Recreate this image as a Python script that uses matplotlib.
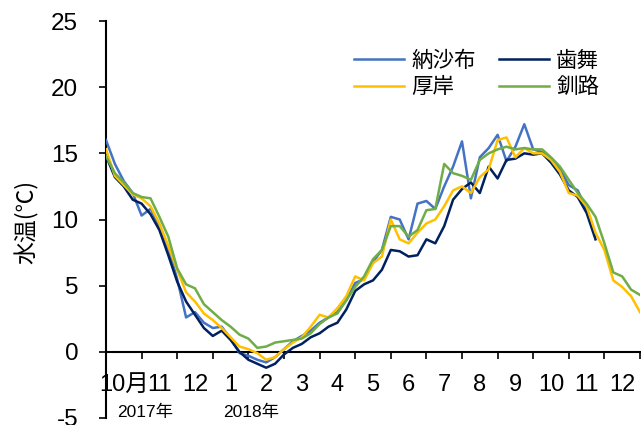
import numpy as np
import matplotlib
matplotlib.use("Agg")
import matplotlib.pyplot as plt

# === DATA (~quarter-month steps) ===
# x in months from 2017-10-01 (0) to 2018-12-31 (15)
month_pos = np.arange(0, 15.01, 0.25)
nan = np.nan

nosappu = [16.0, 14.2, 12.9, 12.0, 10.3, 10.8, 9.5, 7.8, 5.5, 2.6, 3.0, 2.2,
           1.8, 1.9, 1.0, -0.1, -0.3, -0.6, -0.8, -0.4, 0.2, 0.8, 1.2, 1.6,
           2.2, 2.6, 3.0, 3.9, 5.2, 5.5, 6.8, 7.7, 10.2, 10.0, 8.5, 11.2,
           11.4, 10.8, 12.5, 14.0, 15.9, 11.6, 14.7, 15.4, 16.4, 14.4, 15.5, 17.2,
           15.3, 15.1, 14.6, 13.8, 12.6, 12.2, 10.8, 8.8, nan, nan, nan, nan, nan]
habomai = [14.8, 13.2, 12.5, 11.5, 11.2, 10.4, 9.2, 7.3, 5.3, 3.8, 2.8, 1.8,
           1.2, 1.6, 0.9, 0.0, -0.6, -0.9, -1.2, -0.9, -0.2, 0.3, 0.6, 1.1,
           1.4, 1.9, 2.2, 3.2, 4.6, 5.1, 5.4, 6.2, 7.7, 7.6, 7.2, 7.3,
           8.5, 8.2, 9.5, 11.5, 12.3, 12.8, 12.0, 14.0, 13.1, 14.5, 14.6, 15.0,
           14.9, 15.0, 14.3, 13.4, 12.2, 11.7, 10.5, 8.5, nan, nan, nan, nan, nan]
akkeshi = [15.3, 13.3, 12.6, 11.9, 11.6, 11.0, 9.7, 8.0, 6.2, 4.5, 3.8, 2.9,
           2.4, 1.8, 1.1, 0.4, 0.2, -0.1, -0.6, -0.4, 0.2, 0.7, 1.1, 1.9,
           2.8, 2.6, 3.3, 4.2, 5.7, 5.4, 6.7, 7.2, 10.0, 8.5, 8.2, 9.0,
           9.7, 10.0, 11.0, 12.2, 12.5, 12.0, 13.2, 13.8, 16.0, 16.2, 14.7, 15.4,
           15.0, 15.0, 14.5, 13.6, 12.0, 11.8, 11.0, 9.0, 7.7, 5.4, 4.9, 4.2, 3.0]
kushiro = [14.8, 13.5, 12.8, 12.0, 11.7, 11.6, 10.2, 8.7, 6.3, 5.1, 4.8, 3.6,
           3.0, 2.4, 1.9, 1.3, 1.0, 0.3, 0.4, 0.7, 0.8, 0.9, 1.0, 1.4,
           2.1, 2.6, 2.9, 3.9, 4.9, 5.7, 7.0, 7.7, 9.5, 9.5, 8.7, 9.2,
           10.7, 10.8, 14.2, 13.5, 13.3, 13.0, 14.5, 15.0, 15.3, 15.5, 15.3, 15.4,
           15.3, 15.3, 14.7, 14.0, 13.0, 12.0, 11.2, 10.2, 8.2, 6.0, 5.7, 4.7, 4.3]

series_names = ["納沙布", "歯舞", "厚岸", "釧路"]
series_colors = ["#4472C4", "#002060", "#FFC000", "#70AD47"]
month_labels = ["10月", "11", "12", "1", "2", "3", "4", "5", "6", "7", "8", "9", "10", "11", "12"]
year_labels = ["2017年", "2018年"]
year_starts = [0, 3]  # month index where each year begins

# === FIGURE ===
plt.rcParams['font.family'] = ['Liberation Sans', 'Noto Sans CJK JP']
plt.rcParams['axes.unicode_minus'] = False
W, H = 641, 425
fig = plt.figure(figsize=(W / 100, H / 100), dpi=100)
ax = fig.add_axes([106 / W, 7 / H, (640 - 106) / W, (418 - 21) / H])

lines = []
for vals, name, col in zip([nosappu, habomai, akkeshi, kushiro], series_names, series_colors):
    ln, = ax.plot(month_pos, vals, color=col, lw=1.8, label=name, zorder=3)
    lines.append(ln)

ax.set_xlim(0, 15)
ax.set_ylim(-5, 25)
ax.set_yticks(np.arange(-5, 26, 5))
ax.tick_params(axis='y', direction='out', length=5, width=1.2, labelsize=17.5, pad=15)

for s in ['top', 'right']:
    ax.spines[s].set_visible(False)
ax.spines['left'].set_linewidth(1.5)
ax.spines['bottom'].set_position(('data', 0))
ax.spines['bottom'].set_linewidth(1.5)
ax.set_xticks(np.arange(0, 16, 1))
ax.set_xticklabels([])
ax.tick_params(axis='x', direction='out', length=5, width=1.2)

for i, lab in enumerate(month_labels):
    ax.annotate(lab, xy=(i + 0.5, 0), xytext=(0, -33), textcoords='offset pixels',
                ha='center', va='center', fontsize=17)
for start, lab in zip(year_starts, year_labels):
    ax.annotate(lab, xy=(start + 0.3, 0), xytext=(0, -61), textcoords='offset pixels',
                ha='left', va='center', fontsize=12.5)

fig.text(27 / W, 1 - 222 / H, "水温(℃)", rotation=90, ha='center', va='center',
         fontsize=16.5, family=['Noto Sans CJK JP'])

# legend: column 1 納沙布/厚岸, column 2 歯舞/釧路
order = [0, 2, 1, 3]
fig.legend([lines[i] for i in order], [series_names[i] for i in order],
           ncol=2, loc='upper left', bbox_to_anchor=(354 / W, 1 - 51 / H),
           frameon=False, fontsize=15.5, handlelength=2.3, handletextpad=0.35,
           columnspacing=1.1, labelspacing=0.25, borderpad=0, borderaxespad=0)

fig.savefig("out.png", dpi=100)
